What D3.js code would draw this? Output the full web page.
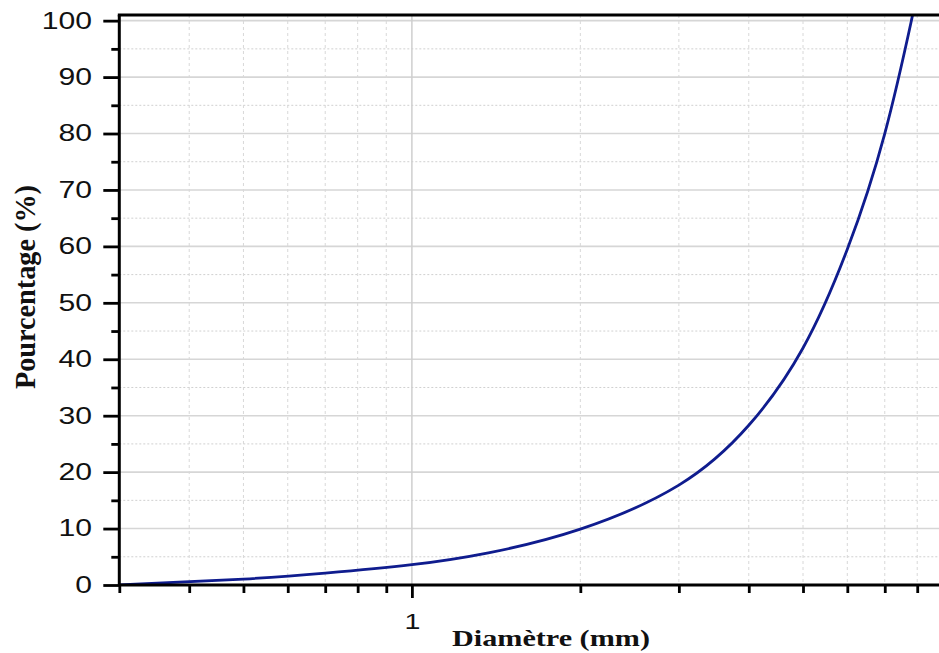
<!DOCTYPE html>
<html>
<head>
<meta charset="utf-8">
<script src="https://cdn.jsdelivr.net/npm/d3@7/dist/d3.min.js"></script>
<style>
  html, body { margin: 0; padding: 0; background: #ffffff; }
  svg { display: block; }
</style>
</head>
<body>
<svg id="chart" width="939" height="653"></svg>
<script>
// Cumulative grain-size curve (percentage passing vs diameter, log scale)
const diameters  = [0.3, 0.5, 0.7, 1, 1.37, 2, 3, 4, 5, 6, 7, 7.81, 7.85];
const percentages = [0, 1.05, 2.1, 3.6, 5.7, 9.9, 17.7, 28.3, 42, 59.5, 80, 100, 101];

const xTickValues = [0.3, 0.4, 0.5, 0.6, 0.7, 0.8, 0.9, 1, 2, 3, 4, 5, 6, 7, 8];
const xTickLabels = { 1: "1" };
const yMajorTicks = [0, 10, 20, 30, 40, 50, 60, 70, 80, 90, 100];
const yMinorTicks = [5, 15, 25, 35, 45, 55, 65, 75, 85, 95];

const xTitle = "Diamètre (mm)";
const yTitle = "Pourcentage (%)";

const plotLeft = 119.3, plotRight = 939, plotTop = 15, plotBottom = 585;

const svg = d3.select("#chart");

const x = d3.scaleLog().domain([0.3, 8.75]).range([plotLeft, plotRight]);
const y = d3.scaleLinear().domain([0, 101]).range([plotBottom, plotTop]);

// ---- grid ----
const grid = svg.append("g");
grid.selectAll("line.ymin").data(yMinorTicks).join("line")
  .attr("x1", plotLeft).attr("x2", plotRight)
  .attr("y1", d => y(d)).attr("y2", d => y(d))
  .attr("stroke", "#d0d0d0").attr("stroke-width", 1).attr("stroke-dasharray", "2,2");
grid.selectAll("line.ymaj").data(yMajorTicks.filter(d => d > 0)).join("line")
  .attr("x1", plotLeft).attr("x2", plotRight)
  .attr("y1", d => y(d)).attr("y2", d => y(d))
  .attr("stroke", "#d6d6d6").attr("stroke-width", 1.6);
grid.selectAll("line.xg").data(xTickValues.filter(d => d > 0.3)).join("line")
  .attr("x1", d => x(d)).attr("x2", d => x(d))
  .attr("y1", plotTop).attr("y2", plotBottom)
  .attr("stroke", d => d === 1 ? "#cfcfcf" : "#d8d8d8")
  .attr("stroke-width", d => d === 1 ? 1.5 : 1)
  .attr("stroke-dasharray", d => d === 1 ? null : "3,3");

// ---- curve ----
svg.append("clipPath").attr("id", "plotClip")
  .append("rect").attr("x", plotLeft).attr("y", plotTop)
  .attr("width", plotRight - plotLeft).attr("height", plotBottom - plotTop);

const pts = diameters.map((d, i) => [d, percentages[i]]);
const line = d3.line()
  .x(d => x(d[0]))
  .y(d => y(d[1]))
  .curve(d3.curveNatural);

svg.append("path")
  .datum(pts)
  .attr("clip-path", "url(#plotClip)")
  .attr("fill", "none")
  .attr("stroke", "#0f1c8e")
  .attr("stroke-width", 2.8)
  .attr("stroke-linejoin", "round")
  .attr("d", line);

// ---- y axis ----
const yMajorAxis = svg.append("g")
  .attr("transform", `translate(${plotLeft},0)`)
  .call(d3.axisLeft(y).tickValues(yMajorTicks).tickSize(16).tickFormat(d3.format("d")));
const yMinorAxis = svg.append("g")
  .attr("transform", `translate(${plotLeft},0)`)
  .call(d3.axisLeft(y).tickValues(yMinorTicks).tickSize(8).tickFormat(""));
[yMajorAxis, yMinorAxis].forEach(g => {
  g.select(".domain").remove();
  g.selectAll(".tick line").attr("stroke", "#000").attr("stroke-width", 2.8);
});
yMajorAxis.selectAll(".tick text")
  .attr("x", -20.8)
  .attr("transform", "scale(1.31,1)")
  .attr("fill", "#111")
  .style("font-family", "'Liberation Sans', Arial, sans-serif")
  .style("font-size", "23px");

// ---- x axis ----
const xAxis = svg.append("g")
  .attr("transform", `translate(0,${plotBottom})`)
  .call(d3.axisBottom(x).tickValues(xTickValues).tickSize(8)
    .tickFormat(d => xTickLabels[d] || ""));
xAxis.select(".domain").remove();
xAxis.selectAll(".tick line")
  .attr("stroke", "#000").attr("stroke-width", 2.8)
  .attr("y2", d => d === 1 ? 13 : 8);
xAxis.selectAll(".tick text")
  .attr("y", 28)
  .attr("transform", "scale(1.3,1)")
  .attr("fill", "#111")
  .style("font-family", "'Liberation Sans', Arial, sans-serif")
  .style("font-size", "22px");

// ---- frame lines ----
svg.append("line")
  .attr("x1", plotLeft).attr("x2", plotRight).attr("y1", plotBottom).attr("y2", plotBottom)
  .attr("stroke", "#000").attr("stroke-width", 3);
svg.append("line")
  .attr("x1", plotLeft - 1.5).attr("x2", plotRight).attr("y1", plotTop).attr("y2", plotTop)
  .attr("stroke", "#000").attr("stroke-width", 3);
svg.append("line")
  .attr("x1", plotLeft).attr("x2", plotLeft).attr("y1", plotTop).attr("y2", plotBottom)
  .attr("stroke", "#000").attr("stroke-width", 3);

// ---- titles ----
svg.append("text")
  .attr("x", 452).attr("y", 645.5)
  .attr("textLength", 198).attr("lengthAdjust", "spacingAndGlyphs")
  .style("font-family", "'Liberation Serif', 'Times New Roman', serif")
  .style("font-weight", "bold").style("font-size", "24px")
  .attr("fill", "#111")
  .text(xTitle);

svg.append("text")
  .attr("transform", "translate(35,287) rotate(-90)")
  .attr("text-anchor", "middle")
  .attr("textLength", 204).attr("lengthAdjust", "spacingAndGlyphs")
  .style("font-family", "'Liberation Serif', 'Times New Roman', serif")
  .style("font-weight", "bold").style("font-size", "29px")
  .attr("fill", "#111")
  .text(yTitle);
</script>
</body>
</html>
